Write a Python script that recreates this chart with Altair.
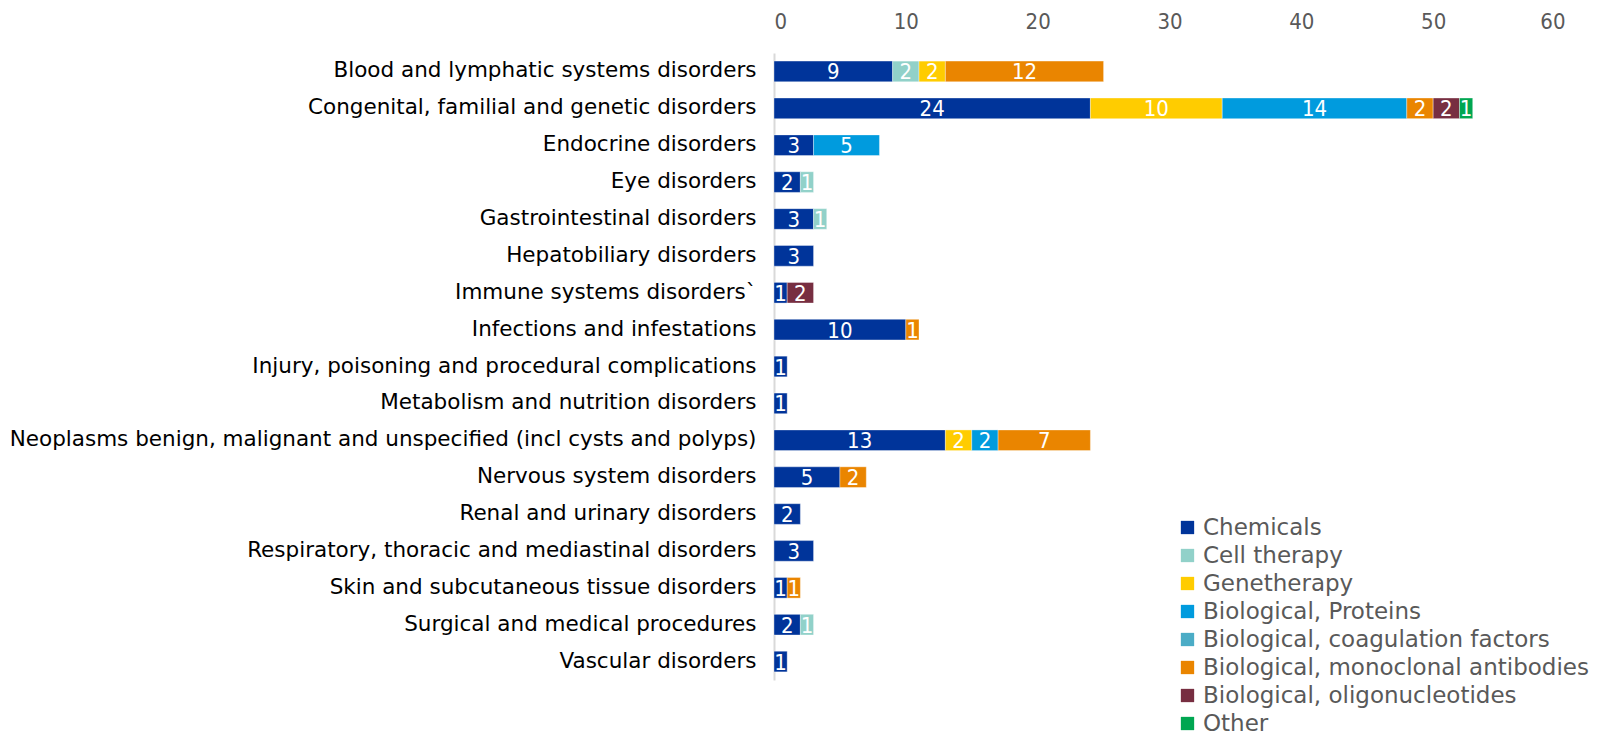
import altair as alt
import pandas as pd

categories = [
    "Blood and lymphatic systems disorders",
    "Congenital, familial and genetic disorders",
    "Endocrine disorders",
    "Eye disorders",
    "Gastrointestinal disorders",
    "Hepatobiliary disorders",
    "Immune systems disorders`",
    "Infections and infestations",
    "Injury, poisoning and procedural complications",
    "Metabolism and nutrition disorders",
    "Neoplasms benign, malignant and unspecified (incl cysts and polyps)",
    "Nervous system disorders",
    "Renal and urinary disorders",
    "Respiratory, thoracic and mediastinal disorders",
    "Skin and subcutaneous tissue disorders",
    "Surgical and medical procedures",
    "Vascular disorders",
]

series_names = [
    "Chemicals",
    "Cell therapy",
    "Genetherapy",
    "Biological, Proteins",
    "Biological, coagulation factors",
    "Biological, monoclonal antibodies",
    "Biological, oligonucleotides",
    "Other",
]

chemicals = [9, 24, 3, 2, 3, 3, 1, 10, 1, 1, 13, 5, 2, 3, 1, 2, 1]
cell_therapy = [2, 0, 0, 1, 1, 0, 0, 0, 0, 0, 0, 0, 0, 0, 0, 1, 0]
genetherapy = [2, 10, 0, 0, 0, 0, 0, 0, 0, 0, 2, 0, 0, 0, 0, 0, 0]
proteins = [0, 14, 5, 0, 0, 0, 0, 0, 0, 0, 2, 0, 0, 0, 0, 0, 0]
coagulation = [0, 0, 0, 0, 0, 0, 0, 0, 0, 0, 0, 0, 0, 0, 0, 0, 0]
monoclonal = [12, 2, 0, 0, 0, 0, 0, 1, 0, 0, 7, 2, 0, 0, 1, 0, 0]
oligonucleotides = [0, 2, 0, 0, 0, 0, 2, 0, 0, 0, 0, 0, 0, 0, 0, 0, 0]
other = [0, 1, 0, 0, 0, 0, 0, 0, 0, 0, 0, 0, 0, 0, 0, 0, 0]

colors = ["#00349A", "#91D1C9", "#FFCC00", "#009BDE",
          "#4BACC6", "#EA8500", "#772E41", "#00A651"]

all_series = [chemicals, cell_therapy, genetherapy, proteins,
              coagulation, monoclonal, oligonucleotides, other]

rows = []
for si, (name, vals) in enumerate(zip(series_names, all_series)):
    for ci, (cat, v) in enumerate(zip(categories, vals)):
        if v > 0:
            rows.append({"category": cat, "series": name, "order": si, "value": v})
df = pd.DataFrame(rows)

base = alt.Chart(df).transform_stack(
    stack="value",
    groupby=["category"],
    as_=["x0", "x1"],
    sort=[alt.SortField("order", order="ascending")],
).transform_calculate(mid="(datum.x0 + datum.x1) / 2")

y_enc = alt.Y(
    "category:N",
    sort=categories,
    title=None,
    scale=alt.Scale(paddingInner=0.44, paddingOuter=0.22),
    axis=alt.Axis(
        labelFont="DejaVu Sans",
        labelFontSize=21.5,
        labelColor="#000000",
        labelPadding=18,
        labelLimit=900,
        ticks=False,
        domain=True,
        domainColor="#d9d9d9",
        domainWidth=2,
        grid=False,
    ),
)

bars = base.mark_bar(stroke="white", strokeWidth=0.6, strokeOpacity=0.6).encode(
    x=alt.X(
        "x0:Q",
        title=None,
        scale=alt.Scale(domain=[0, 60], nice=False),
        axis=alt.Axis(
            orient="top",
            values=[0, 10, 20, 30, 40, 50, 60],
            labelFont="DejaVu Sans Condensed, DejaVu Sans",
            labelFontSize=22,
            labelColor="#595959",
            labelPadding=20,
            domain=False,
            ticks=False,
            grid=False,
        ),
    ),
    x2="x1:Q",
    y=y_enc,
    color=alt.Color(
        "series:N",
        scale=alt.Scale(domain=series_names, range=colors),
        legend=alt.Legend(
            title=None,
            orient="none",
            legendX=402,
            legendY=463,
            symbolType="square",
            symbolSize=177,
            symbolStrokeWidth=0,
            labelFont="DejaVu Sans",
            labelFontSize=23,
            labelColor="#595959",
            labelOffset=4,
            rowPadding=4.0,
            padding=0,
            labelLimit=600,
        ),
    ),
    order=alt.Order("order:Q"),
)

labels = base.mark_text(
    color="white",
    font="DejaVu Sans Condensed, DejaVu Sans",
    fontSize=22,
    baseline="middle",
    align="center",
    dy=1,
).encode(
    x=alt.X("mid:Q"),
    y=alt.Y("category:N", sort=categories),
    text=alt.Text("value:Q"),
)

chart = alt.layer(bars, labels).properties(
    width=791,
    height=627,
    autosize=alt.AutoSizeParams(type="none"),
    padding={"left": 766, "top": 45, "right": 28, "bottom": 56},
).configure_view(stroke=None)

chart.save("out.html", embed_options={"renderer": "svg", "actions": False})
